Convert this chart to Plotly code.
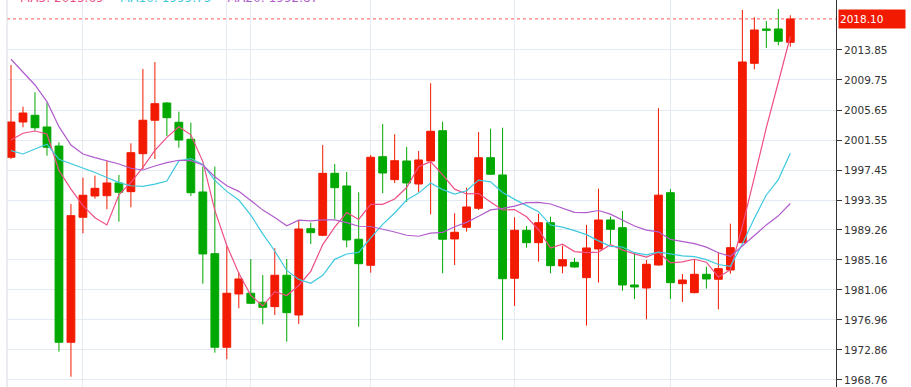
import plotly.graph_objects as go
import pandas as pd

opens = [1999.19, 2004.01, 2004.93, 2003.33, 2000.73, 1973.91, 1990.99, 1993.90, 1993.94, 1995.68,
         1994.49, 1999.68, 2004.25, 2006.61, 2003.97, 2001.65, 1994.45, 1986.02, 1973.23, 1980.51,
         1980.61, 1979.38, 1978.78, 1983.07, 1977.64, 1989.43, 1988.53, 1997.00, 1995.27, 1987.99,
         1984.43, 1999.27, 1996.13, 1998.68, 1995.54, 1998.68, 2002.82, 1988.03, 1989.62, 1992.22,
         1999.13, 1996.77, 1982.66, 1989.21, 1987.52, 1990.25, 1984.34, 1984.84, 1982.74, 1986.66,
         1990.62, 1989.57, 1981.74, 1981.33, 1984.47, 1994.35, 1981.92, 1980.69, 1983.20, 1982.52,
         1983.79, 1987.52, 2012.03, 2016.72, 2016.72, 2014.90]
highs = [2011.80, 2006.10, 2008.07, 2006.65, 2001.24, 1992.81, 1996.40, 1996.68, 1998.68, 1996.77,
         2001.10, 2011.26, 2012.21, 2006.75, 2005.42, 2003.92, 1997.91, 1997.91, 1987.07, 1983.48,
         1985.29, 1983.11, 1986.76, 1985.29, 1990.62, 1990.25, 2000.87, 1998.27, 1997.18, 1994.41,
         1999.50, 2003.74, 2002.33, 2000.60, 2000.05, 2009.30, 2004.05, 1991.54, 1995.04, 2002.65,
         2003.10, 2003.23, 1990.99, 1989.80, 1991.48, 1991.07, 1987.11, 1985.43, 1989.94, 1994.90,
         1991.07, 1991.85, 1986.25, 1985.16, 2005.90, 1994.86, 1983.24, 1985.25, 1984.24, 1986.21,
         1990.12, 2019.32, 2018.32, 2017.81, 2019.45, 2018.59]
lows = [1998.96, 2003.29, 2002.82, 1999.41, 1972.63, 1969.21, 1988.80, 1993.53, 1992.08, 1990.39,
        1992.36, 1997.55, 1998.96, 2002.10, 2000.50, 1993.90, 1981.92, 1972.49, 1971.59, 1978.56,
        1979.14, 1976.37, 1977.64, 1973.99, 1976.41, 1987.34, 1988.40, 1990.76, 1986.89, 1976.04,
        1983.42, 1994.27, 1995.68, 1993.08, 1994.45, 1991.40, 1983.34, 1984.47, 1989.02, 1991.99,
        1996.80, 1974.23, 1978.87, 1986.84, 1984.92, 1983.34, 1983.34, 1984.10, 1976.18, 1982.06,
        1987.34, 1980.96, 1979.83, 1977.05, 1984.40, 1979.83, 1979.42, 1980.60, 1981.24, 1978.42,
        1983.28, 1987.40, 2011.21, 2014.12, 2014.49, 2014.30]
closes = [2004.01, 2005.24, 2003.23, 2000.56, 1973.91, 1991.21, 1994.00, 1994.95, 1995.68, 1994.41,
          1999.82, 2004.25, 2006.51, 2004.60, 2001.55, 1994.35, 1985.98, 1973.23, 1980.61, 1982.56,
          1979.24, 1978.69, 1983.07, 1977.96, 1989.39, 1988.89, 1997.00, 1995.04, 1987.89, 1984.65,
          1999.19, 1997.04, 1998.72, 1995.68, 1998.82, 2002.74, 1987.99, 1988.94, 1992.40, 1999.13,
          1996.87, 1982.60, 1989.21, 1987.52, 1990.25, 1984.38, 1985.20, 1984.20, 1986.80, 1990.62,
          1989.35, 1981.74, 1981.47, 1984.57, 1994.01, 1982.06, 1982.42, 1983.20, 1982.56, 1983.97,
          1986.84, 2012.21, 2016.58, 2016.54, 2015.04, 2018.10]

# moving-average values before a full window is available
ma5_lead = [2001.55, 2002.47, 2002.78, 2002.37]
ma10_lead = [2000.09, 1999.64, 2000.32, 2000.97, 1998.92, 1998.32, 1997.75, 1997.11, 1996.43]
ma20_lead = [2012.58, 2010.89, 2009.07, 2006.79, 2003.37, 2000.87, 1999.64, 1999.14, 1998.68,
             1998.27, 1997.69, 1997.45, 1998.00, 1998.45, 1998.78, 1998.72, 1998.14, 1996.54, 1995.31]

ytick_vals = [1968.76, 1972.86, 1976.96, 1981.06, 1985.16, 1989.26, 1993.35,
              1997.45, 2001.55, 2005.65, 2009.75, 2013.85]
ytick_text = ["1968.76", "1972.86", "1976.96", "1981.06", "1985.16", "1989.26", "1993.35",
              "1997.45", "2001.55", "2005.65", "2009.75", "2013.85"]
xgrid_idx = [6, 18, 20, 30, 42, 55]

x = list(range(len(closes)))
s = pd.Series(closes)


def moving(n, lead):
    r = s.rolling(n).mean().tolist()
    return lead + r[n - 1:]


ma5 = moving(5, ma5_lead)
ma10 = moving(10, ma10_lead)
ma20 = moving(20, ma20_lead)

RED = "#f21a00"
GREEN = "#00a800"
C5 = "#ee4f86"
C10 = "#3fc9e0"
C20 = "#b05ccb"
FONT = "DejaVu Sans"

fig = go.Figure()
fig.add_trace(go.Candlestick(
    x=x, open=opens, high=highs, low=lows, close=closes,
    increasing=dict(line=dict(color=RED, width=1), fillcolor=RED),
    decreasing=dict(line=dict(color=GREEN, width=1), fillcolor=GREEN),
    whiskerwidth=0, showlegend=False, hoverinfo="skip",
))
for vals, col in ((ma5, C5), (ma10, C10), (ma20, C20)):
    fig.add_trace(go.Scatter(x=x, y=vals, mode="lines", line=dict(color=col, width=1.2),
                             showlegend=False, hoverinfo="skip"))

last = closes[-1]
fig.add_shape(type="line", xref="paper", x0=0, x1=1, yref="y", y0=last, y1=last,
              line=dict(color="#ff5a5a", width=1, dash="dot"))
fig.add_shape(type="line", xref="paper", x0=0, x1=0, yref="paper", y0=0, y1=1,
              line=dict(color="#d6dbe0", width=1))

fig.add_annotation(x=1, xref="paper", y=last, yref="y", xanchor="left", yanchor="middle",
                   text=f"{last:.2f}", showarrow=False, bgcolor=RED,
                   font=dict(family=FONT, size=10.5, color="white"),
                   width=64, height=16, align="left", borderpad=1, xshift=2)

legend_items = [("MA5", ma5[-1], C5, 0.0133), ("MA10", ma10[-1], C10, 0.1339), ("MA20", ma20[-1], C20, 0.263)]
for name, val, col, px in legend_items:
    fig.add_annotation(x=px, xref="paper", y=1, yref="paper", xanchor="left", yanchor="bottom",
                       text=f"{name}: {val:.2f}", showarrow=False, yshift=-7,
                       font=dict(family=FONT, size=12, color=col))

fig.update_layout(
    width=911, height=387, margin=dict(l=7, r=75, t=0, b=0),
    paper_bgcolor="white", plot_bgcolor="white",
    boxgap=0.35, boxgroupgap=0,
    xaxis=dict(range=[-0.334, 68.81], rangeslider=dict(visible=False),
               tickvals=xgrid_idx, showticklabels=False, ticks="",
               showgrid=True, gridcolor="#e3eaf1", gridwidth=1, zeroline=False, showline=False),
    yaxis=dict(side="right", range=[1967.80, 2020.68], tickvals=ytick_vals, ticktext=ytick_text,
               showgrid=True, gridcolor="#e3eaf1", gridwidth=1, zeroline=False,
               showline=True, linecolor="#333333", linewidth=1,
               ticks="outside", ticklen=5, tickcolor="#333333",
               tickfont=dict(family=FONT, size=10.5, color="#333333")),
)

fig.write_html("out.html")
